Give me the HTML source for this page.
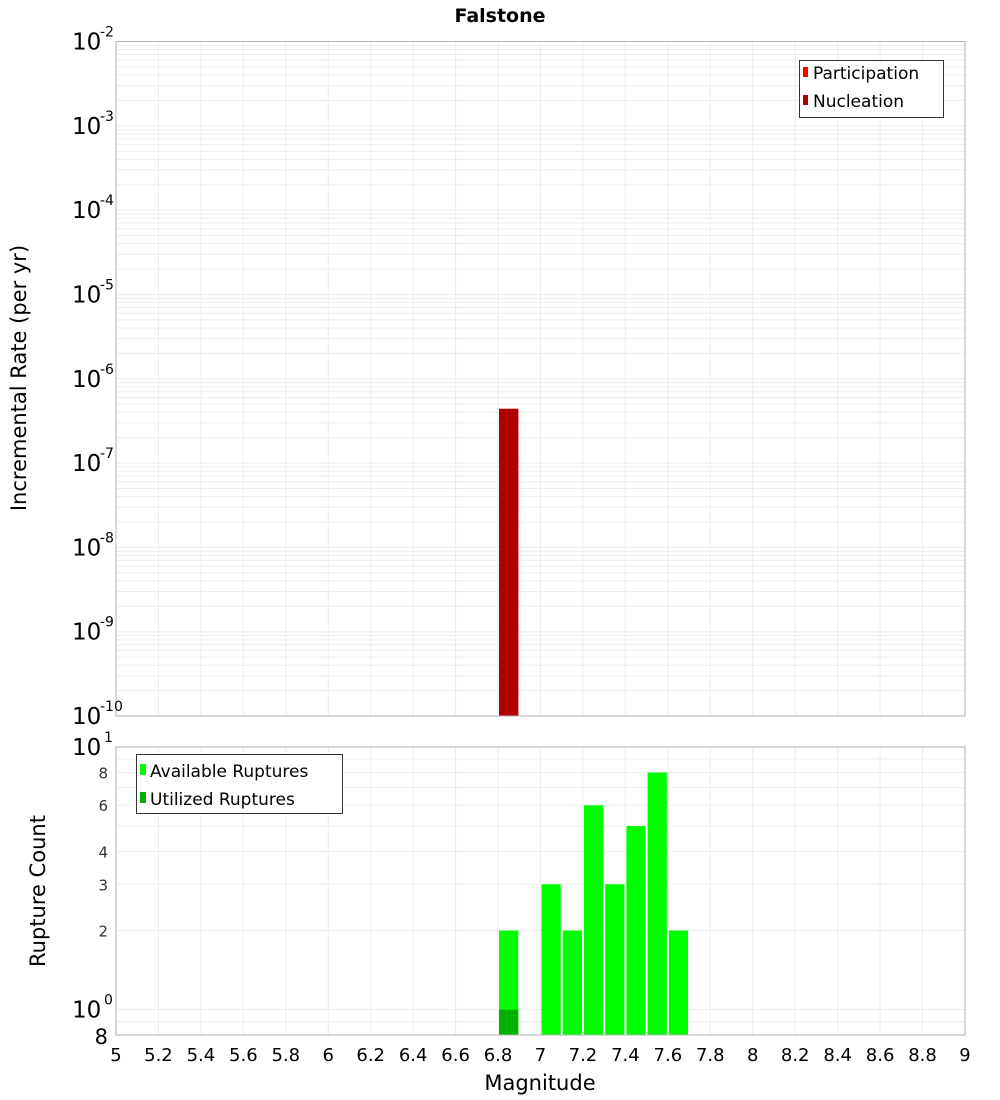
<!DOCTYPE html>
<html><head><meta charset="utf-8"><style>
body{margin:0;background:#fff;}
svg{display:block;font-family:"DejaVu Sans","Liberation Sans",sans-serif;}
</style></head><body>
<svg id="chart" width="1000" height="1100" viewBox="0 0 1000 1100">
<text x="500" y="22" text-anchor="middle" font-size="19" font-weight="bold" fill="#000">Falstone</text>
<g id="topG"></g>
<g id="botG"></g>
<text transform="translate(26,378) rotate(-90)" text-anchor="middle" font-size="21" fill="#000">Incremental Rate (per yr)</text>
<text transform="translate(45,891) rotate(-90)" text-anchor="middle" font-size="21" fill="#000">Rupture Count</text>
<text x="540" y="1090" text-anchor="middle" font-size="21" fill="#000">Magnitude</text>
</svg>
<script>
const binStarts = [6.8];
const nucleationRates = [4.4e-7];
const participationRates = [4.4e-7];
const countBins = [6.8, 7.0, 7.1, 7.2, 7.3, 7.4, 7.5, 7.6];
const availableCounts = [2, 3, 2, 6, 3, 5, 8, 2];
const utilizedBins = [6.8];
const utilizedCounts = [1];
const xTicks = [5,5.2,5.4,5.6,5.8,6,6.2,6.4,6.6,6.8,7,7.2,7.4,7.6,7.8,8,8.2,8.4,8.6,8.8,9];
const xTickLabels = ["5","5.2","5.4","5.6","5.8","6","6.2","6.4","6.6","6.8","7","7.2","7.4","7.6","7.8","8","8.2","8.4","8.6","8.8","9"];
const topDecades = [-2,-3,-4,-5,-6,-7,-8,-9,-10];
const botMinorTicks = [2,3,4,6,8];

const NS="http://www.w3.org/2000/svg";
const X0=116,X1=965;
const xs=m=>X0+(m-5)/(9-5)*(X1-X0);
const T0=41.5,T1=716;
const ty=v=>T0+(-2-Math.log10(v))/8*(T1-T0);
const B0=747,B1=1035;
const byLog=v=>B0+(1-Math.log10(v))/(1-Math.log10(0.8))*(B1-B0);
function mk(p,tag,attrs){const e=document.createElementNS(NS,tag);for(const k in attrs)e.setAttribute(k,attrs[k]);p.appendChild(e);return e;}
const topG=document.getElementById('topG'),botG=document.getElementById('botG');

for(let d=-10;d<-2;d++){for(let k=1;k<10;k++){const v=k*Math.pow(10,d);const y=ty(v);
 const l=mk(topG,'line',{x1:X0,x2:X1,y1:y,y2:y,stroke:'#ececec','stroke-width':1});
 
 }}
for(const m of xTicks){const x=xs(m);
 const l=mk(topG,'line',{x1:x,x2:x,y1:T0,y2:T1,stroke:'#ececec','stroke-width':1});
 
 
 const l2=mk(botG,'line',{x1:x,x2:x,y1:B0,y2:B1,stroke:'#ececec','stroke-width':1});
 
 }
binStarts.forEach((b,i)=>{
 const yp=ty(participationRates[i]);
 const r=mk(topG,'rect',{x:xs(b)+1,y:yp,width:xs(b+0.1)-xs(b)-2,height:T1-yp,fill:'#ff0000'});
 
 
 const yn=ty(nucleationRates[i]);
 const r2=mk(topG,'rect',{x:xs(b)+1,y:yn,width:xs(b+0.1)-xs(b)-2,height:T1-yn,fill:'#b00000'});
 
 
});
const tf=mk(topG,'rect',{x:X0,y:T0,width:X1-X0,height:T1-T0,fill:'none',stroke:'#b0b0b0'});


topDecades.forEach(d=>{const y=ty(Math.pow(10,d));
 const t=mk(topG,'text',{x:72,y:y+8,'font-size':23,fill:'#000'});
 
 
 t.textContent='10';
 const s=mk(topG,'text',{x:100,y:y-5,'font-size':14,fill:'#000'});
 
 
 s.textContent=String(d);});
const lg=mk(topG,'g',{});


mk(lg,'rect',{x:799.5,y:60.5,width:144,height:57,fill:'#fff',stroke:'#333'});
[['Participation','#ff0000',73],['Nucleation','#b00000',101]].forEach(([n,c,y])=>{
 const r=mk(lg,'rect',{x:803,y:y-6,width:5,height:10,fill:c});
 
 
 const t=mk(lg,'text',{x:813,y:y+6,'font-size':17,fill:'#000'});
 
 
 t.textContent=n;});

[0.8,0.9,1,2,3,4,5,6,7,8,9].forEach(v=>{const y=byLog(v);
 const l=mk(botG,'line',{x1:X0,x2:X1,y1:y,y2:y,stroke:'#ececec','stroke-width':1});
 
 });
countBins.forEach((b,i)=>{const y=byLog(availableCounts[i]);
 const r=mk(botG,'rect',{x:xs(b)+1,y:y,width:xs(b+0.1)-xs(b)-2,height:B1-y,fill:'#00ff00'});
 
 });
utilizedBins.forEach((b,i)=>{const y=byLog(utilizedCounts[i]);
 const r=mk(botG,'rect',{x:xs(b)+1,y:y,width:xs(b+0.1)-xs(b)-2,height:B1-y,fill:'#00b300'});
 
 });
const bf=mk(botG,'rect',{x:X0,y:B0,width:X1-X0,height:B1-B0,fill:'none',stroke:'#b0b0b0'});


[[10,'1'],[1,'0']].forEach(([v,e])=>{const y=byLog(v);
 const t=mk(botG,'text',{x:72,y:y+8,'font-size':23,fill:'#000'});
 
 
 t.textContent='10';
 const s=mk(botG,'text',{x:104,y:y-5,'font-size':14,fill:'#000'});
 
 
 s.textContent=e;});
botMinorTicks.forEach(v=>{const y=byLog(v);
 const t=mk(botG,'text',{x:108,y:y+6,'font-size':15,fill:'#333','text-anchor':'end'});
 
 
 t.textContent=String(v);});
const t8=mk(botG,'text',{x:108,y:B1+9,'font-size':21,fill:'#000','text-anchor':'end'});


t8.textContent='8';
xTicks.forEach((m,i)=>{
 const t=mk(botG,'text',{x:xs(m),y:1061,'font-size':18,fill:'#000','text-anchor':'middle'});
 
 
 t.textContent=xTickLabels[i];});
const lg2=mk(botG,'g',{});


mk(lg2,'rect',{x:136.5,y:754.5,width:206,height:59,fill:'#fff',stroke:'#333'});
[['Available Ruptures','#00ff00',770],['Utilized Ruptures','#00b300',798]].forEach(([n,c,y])=>{
 const r=mk(lg2,'rect',{x:140,y:y-6,width:6,height:11,fill:c});
 
 
 const t=mk(lg2,'text',{x:150,y:y+7,'font-size':17,fill:'#000'});
 
 
 t.textContent=n;});
</script>
</body></html>
